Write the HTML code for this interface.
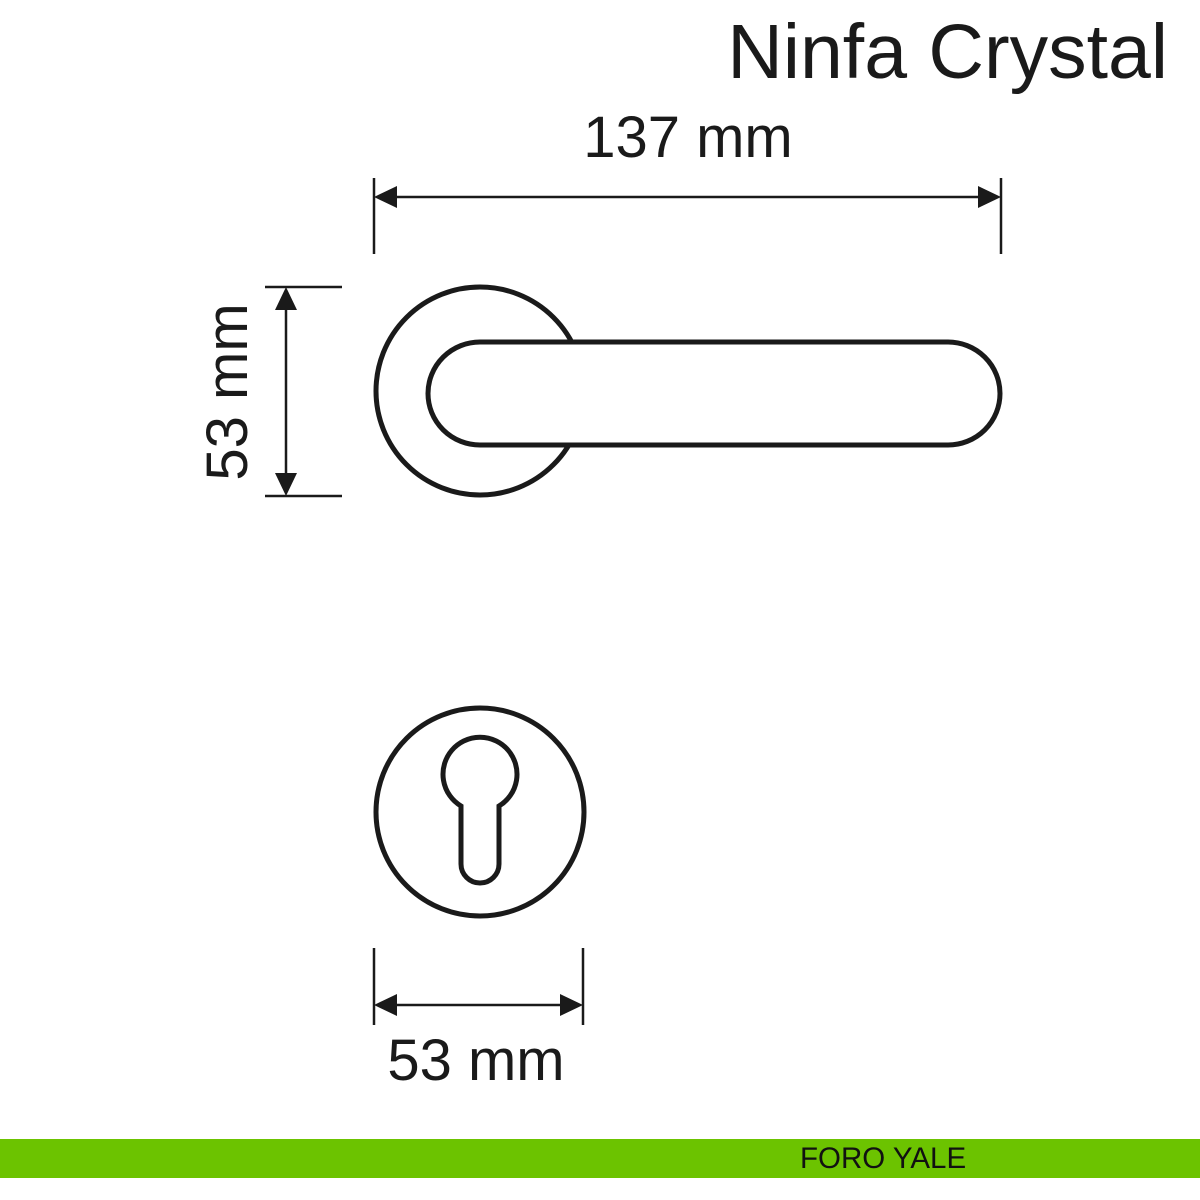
<!DOCTYPE html>
<html><head><meta charset="utf-8"><style>
html,body{margin:0;padding:0;background:#fff}
svg{display:block}
text{font-family:"Liberation Sans",sans-serif;fill:#1a1a1a}
</style></head><body>
<svg width="1200" height="1200" viewBox="0 0 1200 1200" xmlns="http://www.w3.org/2000/svg">
<text x="1168" y="78" font-size="77" text-anchor="end">Ninfa Crystal</text>
<text x="688" y="157" font-size="58" text-anchor="middle">137 mm</text>
<g stroke="#1a1a1a" stroke-width="2.5" fill="none">
<line x1="374" y1="178" x2="374" y2="254"/>
<line x1="1001" y1="178" x2="1001" y2="254"/>
<line x1="390" y1="197" x2="985" y2="197"/>
<line x1="265" y1="287" x2="342" y2="287"/>
<line x1="265" y1="496" x2="342" y2="496"/>
<line x1="286" y1="303" x2="286" y2="480"/>
<line x1="374" y1="948" x2="374" y2="1025"/>
<line x1="583" y1="948" x2="583" y2="1025"/>
<line x1="390" y1="1005" x2="567" y2="1005"/>
</g>
<g fill="#1a1a1a">
<polygon points="374,197 397,186 397,208"/>
<polygon points="1001,197 978,186 978,208"/>
<polygon points="286,287 275,310 297,310"/>
<polygon points="286,496 275,473 297,473"/>
<polygon points="374,1005 397,994 397,1016"/>
<polygon points="583,1005 560,994 560,1016"/>
</g>
<text transform="translate(247,392) rotate(-90)" font-size="58" text-anchor="middle">53 mm</text>
<text x="476" y="1080" font-size="58" text-anchor="middle">53 mm</text>
<g stroke="#1a1a1a" stroke-width="5" fill="#fff">
<circle cx="480" cy="391" r="104"/>
<rect x="428" y="342" width="572" height="103" rx="52" ry="52"/>
<circle cx="480" cy="812" r="104"/>
<path d="M461,806 A37,37 0 1 1 499,806 L499,864 A19,19 0 0 1 461,864 Z"/>
</g>
<rect x="0" y="1139" width="1200" height="39" fill="#6cc300"/>
<text x="800" y="1168" font-size="29.5" style="fill:#111">FORO YALE</text>
</svg>
</body></html>
